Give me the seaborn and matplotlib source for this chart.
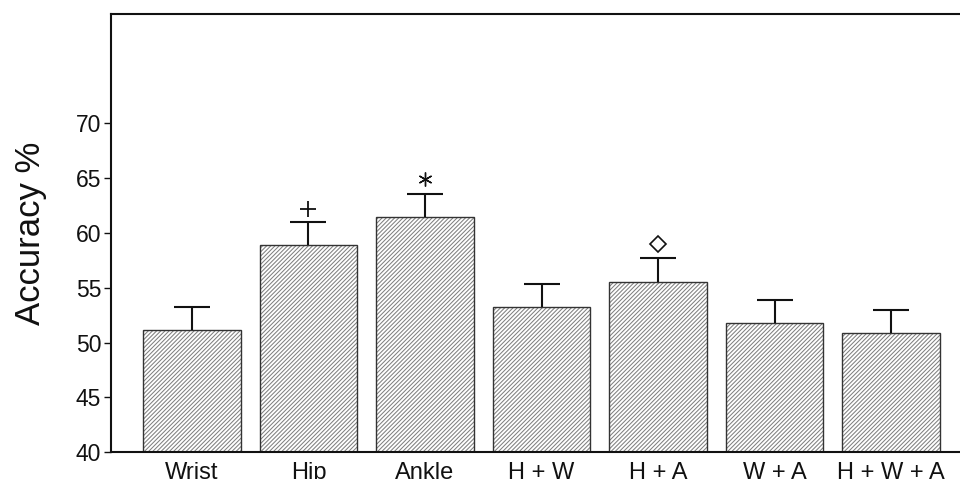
import numpy as np
import pandas as pd
import matplotlib
matplotlib.use("Agg")
import matplotlib.pyplot as plt
import matplotlib.colors as mcolors
import seaborn as sns

sns.set_theme(style="white")
plt.rcParams["font.family"] = ["Liberation Sans", "DejaVu Sans"]
plt.rcParams["hatch.linewidth"] = 0.75

# data
sensors = ["Wrist", "Hip", "Ankle", "H + W", "H + A", "W + A", "H + W + A"]
accuracy = [51.1, 58.9, 61.5, 53.2, 55.5, 51.8, 50.9]
sem = [2.1, 2.1, 2.1, 2.1, 2.2, 2.1, 2.1]

# significance symbols above selected bars
sig_labels = ["Hip", "Ankle", "H + A"]
sig_y = [62.2, 64.9, 59.0]
sig_markers = ["+", (6, 2, 0), "D"]

df = pd.DataFrame({"sensor": sensors, "accuracy": accuracy, "sem": sem})

fig = plt.figure(figsize=(9.6, 4.79), dpi=100)
ax = fig.add_axes([111 / 960, 1 - 452 / 479, 861 / 960, 438 / 479])

sns.barplot(data=df, x="sensor", y="accuracy", order=sensors, color="white",
            edgecolor="#333333", linewidth=1.0, width=0.84, errorbar=None,
            saturation=1, ax=ax)

hatch_rgba = mcolors.to_rgba("#808080")
for patch in ax.patches:
    patch.set_hatch("////////")
    if hasattr(patch, "set_hatchcolor"):
        patch.set_hatchcolor(hatch_rgba)
    else:
        patch._hatch_color = hatch_rgba
        patch.stale = True

x = np.arange(len(sensors))
eb = ax.errorbar(x, df["accuracy"], yerr=[np.zeros(len(sensors)), df["sem"]],
                 fmt="none", ecolor="#111111", elinewidth=1.5, capsize=13.3,
                 capthick=1.5, zorder=1)
# hide the lower caps, only the upper half of the error bar is shown
eb[1][0].set_visible(False)

for lab, yv, mk in zip(sig_labels, sig_y, sig_markers):
    xi = sensors.index(lab)
    if mk == "D":
        ax.plot(xi, yv, marker=mk, markersize=8, markerfacecolor="white",
                markeredgecolor="#111111", markeredgewidth=1.2, linestyle="none")
    elif mk == "+":
        ax.plot(xi, yv, marker=mk, markersize=12, markeredgecolor="#111111",
                markeredgewidth=1.3, linestyle="none")
    else:
        ax.plot(xi, yv, marker=mk, markersize=10, markeredgecolor="#111111",
                markeredgewidth=1.0, linestyle="none")

ax.set_xlim(-0.695, 6.695)
ax.set_ylim(40, 80)
ax.set_yticks([40, 45, 50, 55, 60, 65, 70])
ax.set_xlabel("")
ax.set_ylabel("Accuracy %", fontsize=25, labelpad=21, color="#111111")
ax.tick_params(axis="y", which="both", left=True, length=5, width=1.0,
               direction="out", labelsize=16.5, pad=2, colors="#111111")
ax.tick_params(axis="x", bottom=False, labelsize=17, pad=1.5, colors="#111111")

for side in ["left", "bottom", "top", "right"]:
    ax.spines[side].set_visible(True)
    ax.spines[side].set_color("#111111")
    ax.spines[side].set_linewidth(1.5)

fig.savefig("out.png", dpi=100)
